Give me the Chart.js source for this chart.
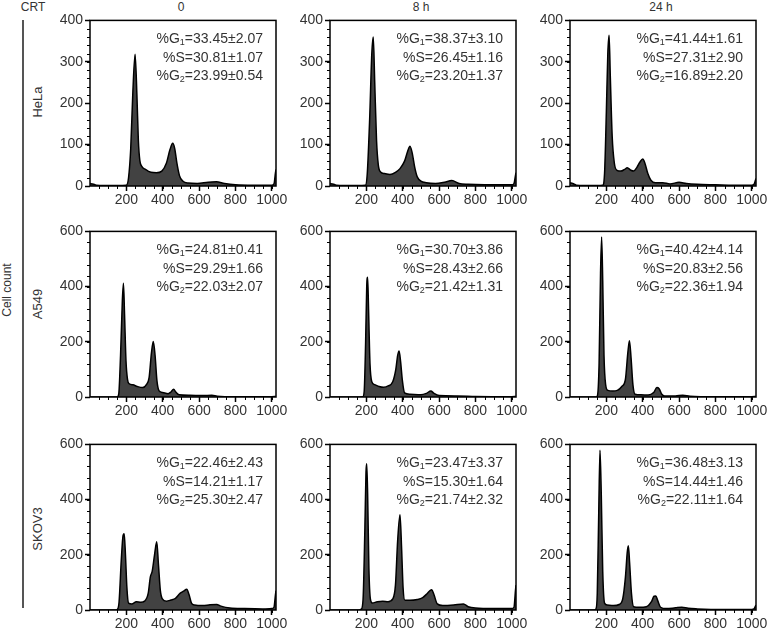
<!DOCTYPE html>
<html>
<head>
<meta charset="utf-8">
<script src="https://cdn.jsdelivr.net/npm/chart.js"></script>
<style>
  body { margin: 0; background: #fff; width: 769px; height: 628px; position: relative; overflow: hidden;
         font-family: "Liberation Sans", Arial, sans-serif; color: #333; }
  canvas { position: absolute; }
  .lbl { position: absolute; white-space: nowrap; font-size: 12px; transform: translateX(-50%); }
  .rot { position: absolute; white-space: nowrap; font-size: 13px; transform: translate(-50%, -50%) rotate(-90deg); }
  .note { position: absolute; text-align: right; font-size: 14px; line-height: 18.5px; color: #333; white-space: nowrap; }
  .note sub { font-size: 9px; line-height: 0; vertical-align: baseline; position: relative; top: 2px; }
  #bar { position: absolute; left: 22px; top: 20px; width: 1.5px; height: 588px; background: #555; }
</style>
</head>
<body>
<div id="bar"></div>
<script>
// columns / rows
const times = ['0', '8 h', '24 h'];
const cellLines = ['HeLa', 'A549', 'SKOV3'];
const yMax = [400, 600, 600];
const yTicks = [[0, 100, 200, 300, 400], [0, 200, 400, 600], [0, 200, 400, 600]];
const yMinor = [20, 40, 40];
const xTicks = [200, 400, 600, 800, 1000];

// %G1 / %S / %G2 (row by row)
const g1Text = ['33.45±2.07', '38.37±3.10', '41.44±1.61', '24.81±0.41', '30.70±3.86', '40.42±4.14', '22.46±2.43', '23.47±3.37', '36.48±3.13'];
const sText  = ['30.81±1.07', '26.45±1.16', '27.31±2.90', '29.29±1.66', '28.43±2.66', '20.83±2.56', '14.21±1.17', '15.30±1.64', '14.44±1.46'];
const g2Text = ['23.99±0.54', '23.20±1.37', '16.89±2.20', '22.03±2.07', '21.42±1.31', '22.36±1.94', '25.30±2.47', '21.74±2.32', '22.11±1.64'];

// histograms [channel, count]
const hela0 = [[0,6],[15,5],[35,2],[80,1],[150,1],[200,2],[212,20],[224,90],[236,230],[248,318],[258,220],[266,110],[274,62],[284,48],[305,40],[335,33],[365,32],[395,36],[420,55],[440,88],[455,103],[466,90],[478,55],[492,25],[510,12],[540,7],[590,6],[650,9],[695,10],[740,6],[800,3],[900,2],[1000,2],[1012,5],[1020,32],[1023,40]];
const hela8 = [[0,6],[15,5],[35,2],[80,1],[150,1],[195,2],[205,30],[218,160],[230,320],[238,360],[246,250],[256,110],[266,50],[278,34],[300,30],[330,28],[360,33],[385,42],[410,60],[428,85],[440,96],[452,80],[466,45],[480,22],[500,12],[530,8],[580,6],[630,9],[670,13],[710,6],[760,4],[850,3],[1000,3],[1012,6],[1020,25],[1023,32]];
const hela24 = [[0,8],[15,6],[35,2],[80,1],[150,1],[180,2],[190,30],[200,180],[208,320],[215,364],[222,260],[232,120],[244,55],[258,38],[280,36],[300,40],[315,44],[335,38],[350,36],[368,45],[385,58],[400,65],[412,55],[428,30],[445,14],[470,8],[510,8],[550,5],[600,9],[640,6],[700,4],[800,3],[900,2],[1000,2],[1012,4],[1020,14],[1023,18]];
const a549_0 = [[0,0],[100,0],[150,0],[158,10],[168,150],[178,350],[184,412],[190,300],[198,130],[206,65],[216,48],[236,44],[260,38],[290,34],[310,45],[325,70],[338,160],[348,201],[358,150],[368,60],[380,22],[400,16],[430,12],[445,18],[460,28],[472,18],[490,8],[550,6],[620,5],[670,6],[700,3],[800,1],[1000,1],[1023,2]];
const a549_8 = [[0,0],[150,0],[180,1],[188,20],[196,200],[202,400],[207,434],[212,320],[220,120],[230,55],[245,45],[270,38],[295,35],[320,40],[345,55],[362,100],[372,150],[380,167],[388,130],[398,60],[410,15],[440,10],[500,8],[530,13],[555,22],[570,14],[600,5],[700,4],[800,2],[1000,1],[1023,2]];
const a549_24 = [[0,0],[140,0],[150,3],[160,120],[168,450],[174,580],[180,420],[187,150],[196,45],[208,24],[235,22],[260,24],[285,38],[305,65],[318,160],[327,204],[336,140],[346,45],[358,10],[390,8],[430,7],[460,16],[478,34],[490,30],[505,10],[520,4],[580,4],[620,6],[660,3],[800,1],[1000,1],[1023,2]];
const skov0 = [[0,0],[140,0],[150,2],[160,30],[172,180],[182,270],[188,276],[195,200],[203,80],[212,25],[230,22],[255,30],[280,28],[300,32],[320,60],[332,120],[342,140],[355,200],[367,247],[377,160],[387,70],[398,40],[420,32],[445,36],[470,42],[495,60],[515,68],[532,75],[545,55],[558,25],[575,18],[620,16],[660,19],[697,20],[720,14],[770,7],[850,5],[950,4],[1000,5],[1012,10],[1020,55],[1023,70]];
const skov8 = [[0,0],[160,0],[172,3],[182,40],[192,300],[198,500],[202,530],[207,420],[214,150],[222,40],[232,25],[260,30],[290,32],[320,30],[345,40],[360,90],[372,250],[385,345],[394,220],[402,80],[412,35],[440,35],[480,38],[510,45],[535,60],[550,70],[560,73],[572,55],[590,22],[620,16],[680,18],[734,22],[760,12],[800,7],[900,5],[1000,5],[1012,10],[1020,70],[1023,90]];
const skov24 = [[0,0],[130,0],[142,3],[150,60],[158,350],[165,579],[172,420],[180,140],[190,25],[205,18],[240,16],[270,20],[290,40],[305,120],[315,210],[321,233],[328,170],[338,60],[350,12],[380,10],[420,12],[448,30],[462,50],[472,51],[482,35],[498,10],[530,5],[580,8],[615,10],[650,6],[700,4],[850,2],[1000,2],[1012,4],[1020,14],[1023,18]];

const panels = [hela0, hela8, hela24, a549_0, a549_8, a549_24, skov0, skov8, skov24];

const plotL = [90, 330, 570];
const plotT = [20, 231, 444];
const plotW = 186, plotH = 166;
const axisW = 44, padTop = 10, padRight = 20, axisH = 22;

// box round the plot + minor ticks
const framePlugin = {
  id: 'frame',
  afterDraw(chart, args, opts) {
    const { ctx, chartArea: a, scales } = chart;
    ctx.save();
    ctx.strokeStyle = '#000';
    ctx.lineWidth = 1;
    ctx.beginPath();
    for (let v = 0; v <= scales.y.max; v += opts.minor) {
      const py = Math.round(scales.y.getPixelForValue(v)) + 0.5;
      ctx.moveTo(a.left - 3, py); ctx.lineTo(a.left, py);
    }
    for (let v = 50; v <= 1000; v += 50) {
      const px = Math.round(scales.x.getPixelForValue(v)) + 0.5;
      ctx.moveTo(px, a.bottom); ctx.lineTo(px, a.bottom + 3);
    }
    ctx.stroke();
    ctx.lineWidth = 1.5;
    ctx.strokeRect(a.left, a.top, a.right - a.left, a.bottom - a.top);
    ctx.restore();
  }
};

function addText(cls, txt, css) {
  const d = document.createElement('div');
  d.className = cls;
  d.innerHTML = txt;
  Object.assign(d.style, css);
  document.body.appendChild(d);
}

// headers
addText('lbl', 'CRT', { left: '33px', top: '0px' });
times.forEach((t, c) => addText('lbl', t, { left: (plotL[c] + plotW / 2 - 2) + 'px', top: '0px' }));
addText('rot', 'Cell count', { left: '7px', top: '290px', fontSize: '12px' });
const rowMid = [102, 304, 529];
cellLines.forEach((n, r) => addText('rot', n, { left: '37px', top: rowMid[r] + 'px' }));

panels.forEach((pts, i) => {
  const r = Math.floor(i / 3), c = i % 3;
  const cv = document.createElement('canvas');
  cv.width = axisW + plotW + padRight;
  cv.height = padTop + plotH + axisH;
  cv.style.left = (plotL[c] - axisW) + 'px';
  cv.style.top = (plotT[r] - padTop) + 'px';
  document.body.appendChild(cv);

  new Chart(cv.getContext('2d'), {
    type: 'line',
    data: {
      datasets: [{
        data: pts.map(p => ({ x: p[0], y: p[1] })),
        fill: 'origin',
        backgroundColor: '#424242',
        borderColor: '#000',
        borderWidth: 1.5,
        pointRadius: 0,
        cubicInterpolationMode: 'monotone'
      }]
    },
    options: {
      responsive: false,
      animation: false,
      layout: { padding: { top: padTop, right: padRight, left: 0, bottom: 0 } },
      plugins: { legend: { display: false }, tooltip: { enabled: false }, frame: { minor: yMinor[r] } },
      scales: {
        x: {
          type: 'linear', min: 0, max: 1023,
          afterBuildTicks: s => { s.ticks = xTicks.map(v => ({ value: v })); },
          afterFit: s => { s.height = axisH; },
          grid: { drawOnChartArea: false, tickLength: 5, tickColor: '#000', tickWidth: 1.5 },
          border: { display: false },
          ticks: { color: '#333', font: { size: 14, family: '"Liberation Sans", Arial' }, padding: 1, maxRotation: 0, autoSkip: false,
                   callback: v => String(v) }
        },
        y: {
          min: 0, max: yMax[r],
          afterBuildTicks: s => { s.ticks = yTicks[r].map(v => ({ value: v })); },
          afterFit: s => { s.width = axisW; },
          grid: { drawOnChartArea: false, tickLength: 5, tickColor: '#000', tickWidth: 1.5 },
          border: { display: false },
          ticks: { color: '#333', font: { size: 14, family: '"Liberation Sans", Arial' }, padding: 2,
                   callback: v => String(v) }
        }
      }
    },
    plugins: [framePlugin]
  });

  addText('note',
    '%G<sub>1</sub>=' + g1Text[i] + '<br>%S=' + sText[i] + '<br>%G<sub>2</sub>=' + g2Text[i],
    { right: (769 - (plotL[c] + plotW - 13)) + 'px', top: (plotT[r] + 9) + 'px' });
});
</script>
</body>
</html>
